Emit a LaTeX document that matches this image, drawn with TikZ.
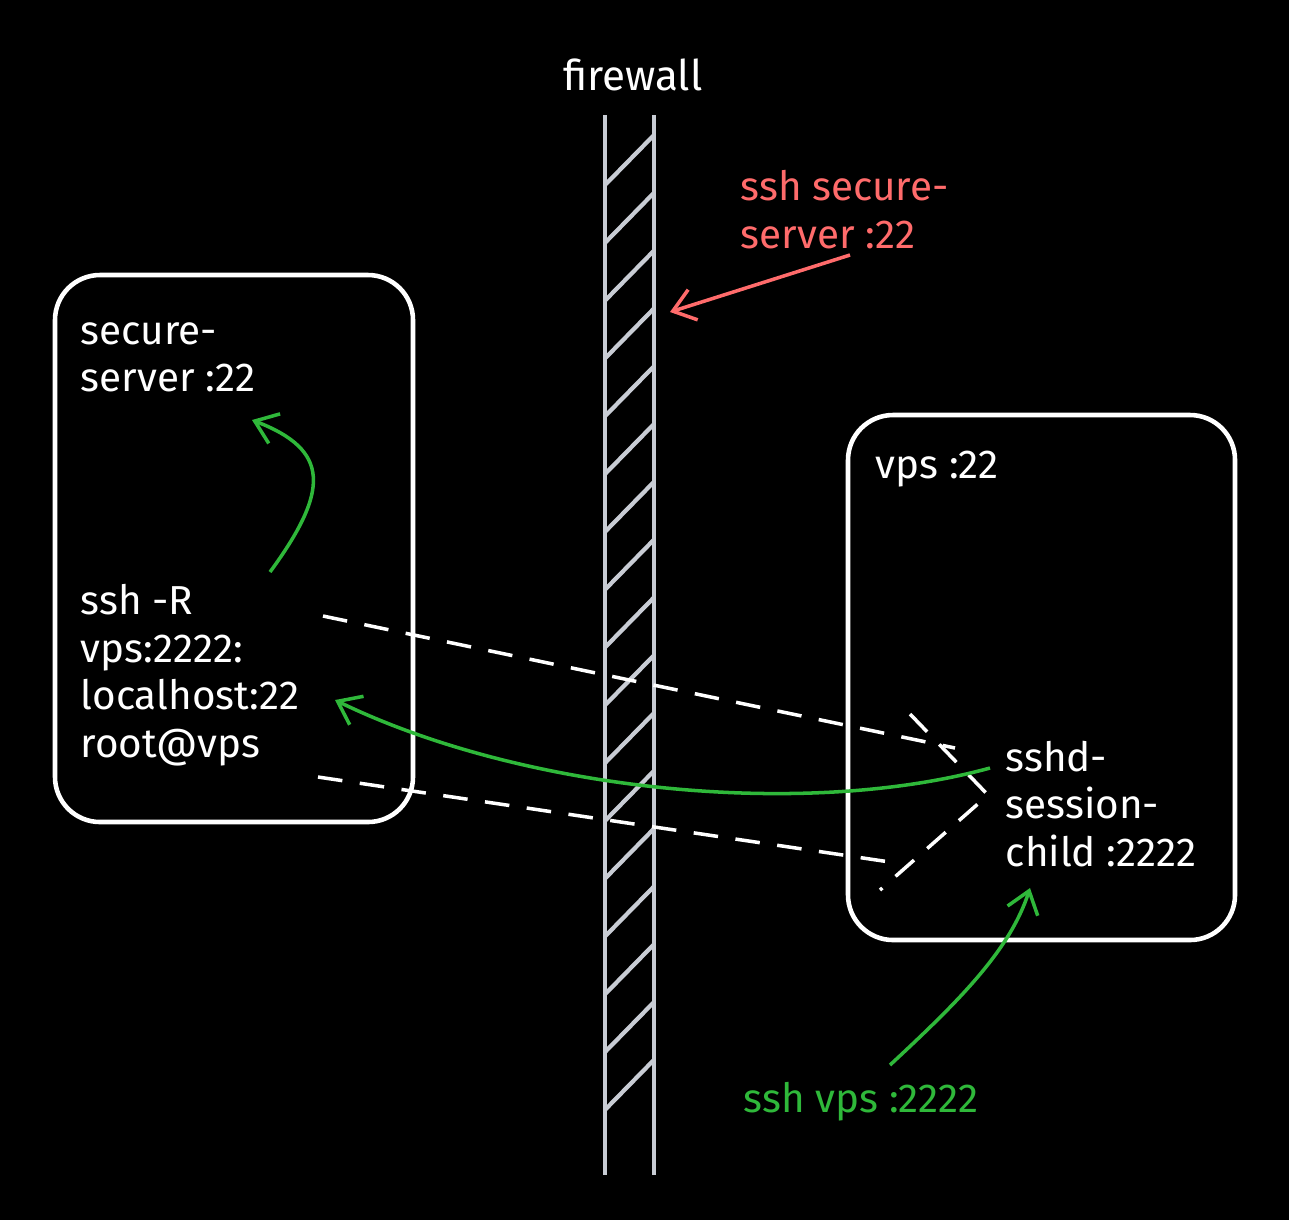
\documentclass[tikz,border=0pt]{standalone}
\usepackage{fontspec}
\setmainfont{Fira Sans}
\usetikzlibrary{arrows.meta}
\definecolor{fw}{HTML}{C8CCD4}
\definecolor{rd}{HTML}{FF6B6B}
\definecolor{gr}{HTML}{2FB83A}
\begin{document}
\begin{tikzpicture}[x=0.01cm,y=-0.01cm,
  box/.style={draw=white,line width=1.3pt,rounded corners=0.45cm},
  lbl/.style={text=white,font=\fontsize{11.5}{13.5}\selectfont,align=left,inner sep=0pt,anchor=north west},
  dsh/.style={draw=white,line width=1pt,dash pattern=on 7pt off 5pt},
  garr/.style={draw=gr,line width=1pt,-{Straight Barb[length=6pt,width=9pt]}},
  rarr/.style={draw=rd,line width=1pt,-{Straight Barb[length=6pt,width=9pt]}}]
\fill[black] (0,0) rectangle (1289,1220);
\useasboundingbox (0,0) rectangle (1289,1220);
% firewall
\draw[fw,line width=1.2pt] (605,115) -- (605,1175);
\draw[fw,line width=1.2pt] (654,115) -- (654,1175);
\foreach \i in {0,...,16} {
  \draw[fw,line width=1.2pt] (605,{185+57.8*\i}) -- (654,{135+57.8*\i});
}
\node[text=white,font=\fontsize{12}{14}\selectfont] (fwl) at (633,75) {firewall};
% boxes
\draw[box] (55,275) rectangle (413,822);
\draw[box] (848,415) rectangle (1235,940);
\node[lbl] (ss) at (80,322) {secure-\\server :22};
\node[lbl] (cmd) at (80,584) {ssh -R\\vps:2222:\\localhost:22\\root@vps};
\node[lbl] (vps) at (875,450) {vps :22};
\node[lbl] (sshd) at (1005,740) {sshd-\\session-\\child :2222};
\node[lbl,text=rd] (rl) at (740,170) {ssh secure-\\server :22};
\node[lbl,text=gr] (gl) at (743,1082) {ssh vps :2222};
% dashed tunnel
\coordinate (a1) at (323,616); \coordinate (a2) at (955,748);
\coordinate (b1) at (318,777); \coordinate (b2) at (890,862);
\draw[dsh] (a1) -- (a2);
\draw[dsh] (b1) -- (b2);
\draw[dsh] (910,714) -- (988,795) -- (880,890);
% arrows
\coordinate (r1) at (850,255); \coordinate (r2) at (670,312);
\draw[rarr] (r1) -- (r2);
\coordinate (g1) at (270,572); \coordinate (g2) at (252,420);
\draw[garr] (g1) .. controls (330,490) and (330,450) .. (g2);
\coordinate (h1) at (990,768); \coordinate (h2) at (335,700);
\draw[garr] (h1) .. controls (800,820) and (520,790) .. (h2);
\coordinate (k1) at (890,1065); \coordinate (k2) at (1030,888);
\draw[garr] (k1) .. controls (960,1000) and (1010,950) .. (k2);
\end{tikzpicture}
\end{document}
